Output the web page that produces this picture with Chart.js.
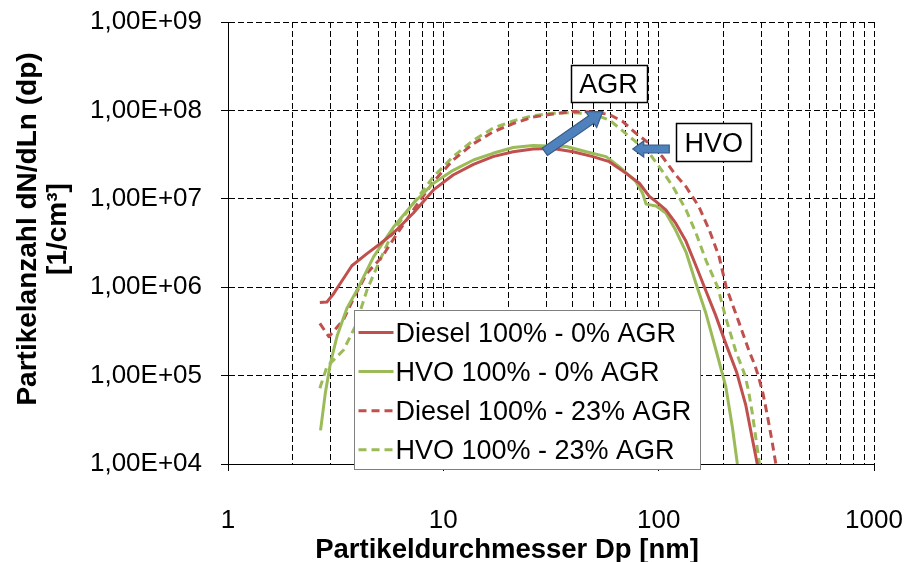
<!DOCTYPE html>
<html><head><meta charset="utf-8">
<script src="https://cdn.jsdelivr.net/npm/chart.js@4.4.1/dist/chart.umd.min.js"></script>
<style>html,body{margin:0;padding:0;background:#fff;overflow:hidden}canvas{display:block}</style>
</head><body>
<canvas id="c" width="906" height="562"></canvas>
<script>
// ---------- data ----------
const SERIES_LABELS = ['Diesel 100% - 0% AGR', 'HVO 100% - 0% AGR', 'Diesel 100% - 23% AGR', 'HVO 100% - 23% AGR'];

const D0_X = [2.67, 2.88, 3.1, 3.32, 3.76, 4.42, 5.09, 5.87, 7.26, 9.0, 11.1, 13.8, 17, 21.1, 26.1, 32.3, 40, 49.5, 59, 70.6, 81.4, 90.6, 97.3, 108, 120, 134, 149, 166, 184, 205, 230, 254, 287];
const D0_Y = [6.7e5, 6.8e5, 8.5e5, 1.1e6, 1.75e6, 2.4e6, 3.1e6, 4.1e6, 6.9e6, 1.26e7, 1.86e7, 2.45e7, 3.0e7, 3.4e7, 3.66e7, 3.7e7, 3.4e7, 3.0e7, 2.63e7, 1.94e7, 1.5e7, 1.06e7, 9.3e6, 7.5e6, 5.3e6, 3.3e6, 1.75e6, 9.0e5, 4.8e5, 2.3e5, 1.1e5, 4.6e4, 1.0e4];

const H0_X = [2.69, 2.83, 2.99, 3.21, 3.57, 4.04, 4.74, 5.87, 7.26, 9.0, 11.1, 13.8, 17, 21.1, 26.1, 37.3, 46.1, 57, 65.8, 78.5, 84.3, 87.4, 97.3, 108, 120, 134, 149, 166, 184, 205, 220, 232];
const H0_Y = [2.4e4, 6.3e4, 1.38e5, 2.8e5, 5.8e5, 1.0e6, 2.2e6, 4.8e6, 8.9e6, 1.5e7, 2.1e7, 2.75e7, 3.27e7, 3.8e7, 4.0e7, 3.9e7, 3.4e7, 3.0e7, 2.3e7, 1.56e7, 1.15e7, 8.7e6, 8.3e6, 6.9e6, 4.4e6, 2.5e6, 1.1e6, 5.0e5, 2.0e5, 7.5e4, 2.6e4, 1.0e4];

const D23_X = [2.67, 2.94, 3.44, 3.9, 4.42, 5.19, 5.87, 7.26, 9.0, 11.1, 13.8, 17, 21.1, 26.1, 32.3, 40, 49.5, 59, 68, 78.5, 90.6, 104, 120, 134, 154, 172, 191, 206, 236, 263, 280, 290, 305, 320, 335, 350];
const D23_Y = [3.9e5, 2.75e5, 4.3e5, 8.2e5, 1.44e6, 2.2e6, 3.5e6, 7.5e6, 1.56e7, 2.75e7, 4.2e7, 5.7e7, 7.1e7, 8.4e7, 9.1e7, 9.7e7, 9.6e7, 9.0e7, 7.5e7, 5.5e7, 4.2e7, 3.0e7, 1.86e7, 1.37e7, 8.1e6, 4.4e6, 2.2e6, 1.0e6, 4.0e5, 1.9e5, 1.3e5, 1.0e5, 6.3e4, 3.5e4, 1.9e4, 1.0e4];

const H23_X = [2.67, 2.88, 3.44, 3.9, 4.42, 5.0, 5.87, 7.26, 9.0, 11.1, 13.8, 17, 21.1, 26.1, 32.3, 40, 49.5, 59, 65.7, 76.7, 90.6, 102, 116, 134, 149, 166, 188, 205, 228, 252, 262, 272, 294];
const H23_Y = [7.2e4, 1.26e5, 1.95e5, 3.6e5, 9.3e5, 1.86e6, 4.4e6, 8.9e6, 1.78e7, 3.0e7, 4.6e7, 6.3e7, 7.6e7, 8.7e7, 9.3e7, 9.4e7, 9.1e7, 7.8e7, 6.3e7, 4.6e7, 3.27e7, 2.2e7, 1.4e7, 7.5e6, 4.1e6, 2.0e6, 1.0e6, 4.5e5, 1.9e5, 1.0e5, 6.5e4, 3.8e4, 1.0e4];

const X_TICK_LABELS = ['1', '10', '100', '1000'];
const Y_TICK_LABELS = ['1,00E+04', '1,00E+05', '1,00E+06', '1,00E+07', '1,00E+08', '1,00E+09'];
const X_TITLE = 'Partikeldurchmesser Dp [nm]';
const Y_TITLE = ['Partikelanzahl dN/dLn (dp)', '[1/cm³]'];
const NOTE_AGR = 'AGR';
const NOTE_HVO = 'HVO';

// ---------- helpers ----------
const FONT = '"Liberation Sans", Arial, Helvetica, sans-serif';
const RED = '#C0504D', GREEN = '#9BBB59';
const zip = (xs, ys) => xs.map((x, i) => ({x, y: ys[i]}));
const isDecade = v => Math.abs(Math.log10(v) - Math.round(Math.log10(v))) < 1e-9;
const logTicks = (lo, hi, minors) => {
  const out = [];
  for (let e = lo; e <= hi; e++) {
    const b = Math.pow(10, e);
    if (e === hi || !minors) { out.push(b); continue; }
    for (let m = 1; m <= 9; m++) out.push(Math.round(m * b * 1e6) / 1e6);
  }
  return out;
};

function blockArrow(ctx, x1, y1, x2, y2, shaftW, headW, headL) {
  const dx = x2 - x1, dy = y2 - y1, len = Math.hypot(dx, dy);
  const ux = dx / len, uy = dy / len, px = -uy, py = ux;
  const nx = x2 - ux * headL, ny = y2 - uy * headL;
  const pts = [
    [x1 + px * shaftW / 2, y1 + py * shaftW / 2],
    [nx + px * shaftW / 2, ny + py * shaftW / 2],
    [nx + px * headW / 2, ny + py * headW / 2],
    [x2, y2],
    [nx - px * headW / 2, ny - py * headW / 2],
    [nx - px * shaftW / 2, ny - py * shaftW / 2],
    [x1 - px * shaftW / 2, y1 - py * shaftW / 2]
  ];
  ctx.beginPath();
  pts.forEach((p, i) => i ? ctx.lineTo(p[0], p[1]) : ctx.moveTo(p[0], p[1]));
  ctx.closePath();
  ctx.fillStyle = '#4F81BD';
  ctx.fill();
  ctx.lineWidth = 1.2;
  ctx.strokeStyle = '#385D8A';
  ctx.stroke();
}

function noteBox(ctx, cx, cy, w, h, text) {
  const l = Math.round(cx - w / 2) + 0.5, t = Math.round(cy - h / 2) + 0.5;
  ctx.fillStyle = '#fff';
  ctx.fillRect(l, t, w, h);
  ctx.lineWidth = 1.5;
  ctx.strokeStyle = '#000';
  ctx.strokeRect(l, t, w, h);
  ctx.fillStyle = '#000';
  ctx.font = '27px ' + FONT;
  ctx.textAlign = 'center';
  ctx.textBaseline = 'alphabetic';
  ctx.fillText(text, cx, cy + 27 * 0.358);
}

const overlay = {
  id: 'overlay',
  afterDatasetsDraw(chart) {
    const {ctx, chartArea: ca, scales: {x, y}} = chart;
    ctx.save();
    blockArrow(ctx, x.getPixelForValue(29.6), y.getPixelForValue(3.4e7),
      x.getPixelForValue(55), y.getPixelForValue(9.7e7), 9, 19, 14);
    blockArrow(ctx, x.getPixelForValue(112), y.getPixelForValue(3.66e7),
      x.getPixelForValue(75.8), y.getPixelForValue(3.66e7), 8, 16, 11);
    noteBox(ctx, x.getPixelForValue(58.5), y.getPixelForValue(2.03e8), 76, 37, NOTE_AGR);
    noteBox(ctx, x.getPixelForValue(180), y.getPixelForValue(4.37e7), 75, 38, NOTE_HVO);

    const L = {left: ca.left + 126.5, top: ca.top + 288.5, w: 346, h: 159};
    ctx.fillStyle = '#fff';
    ctx.fillRect(L.left, L.top, L.w, L.h);
    ctx.lineWidth = 1;
    ctx.strokeStyle = '#808080';
    ctx.strokeRect(L.left, L.top, L.w, L.h);
    chart.data.datasets.forEach((ds, i) => {
      const cy = L.top + 22 + i * 39.1;
      ctx.beginPath();
      ctx.setLineDash(ds.borderDash || []);
      ctx.lineWidth = ds.borderWidth;
      ctx.strokeStyle = ds.borderColor;
      ctx.lineCap = 'butt';
      ctx.moveTo(L.left + 4, cy);
      ctx.lineTo(L.left + 39, cy);
      ctx.stroke();
      ctx.setLineDash([]);
      ctx.fillStyle = '#000';
      ctx.font = '27px ' + FONT;
      ctx.textAlign = 'left';
      ctx.textBaseline = 'alphabetic';
      ctx.fillText(ds.label, L.left + 41, cy + 27 * 0.358);
    });
    ctx.restore();
  },
  afterDraw(chart) {
    const {ctx} = chart;
    ctx.save();
    ctx.fillStyle = '#000';
    ctx.textAlign = 'center';
    ctx.textBaseline = 'alphabetic';
    ctx.font = 'bold 27.5px ' + FONT;
    ctx.fillText(X_TITLE, 507, 558);
    ctx.font = 'bold 28px ' + FONT;
    const ys = [36, 66];
    Y_TITLE.forEach((t, i) => {
      ctx.save();
      ctx.translate(ys[i], 229);
      ctx.rotate(-Math.PI / 2);
      ctx.fillText(t, 0, 0);
      ctx.restore();
    });
    ctx.restore();
  }
};

const mk = (label, xs, ys, color, dash) => ({
  label, data: zip(xs, ys), borderColor: color, backgroundColor: color,
  borderWidth: 3, borderDash: dash, borderCapStyle: 'butt', borderJoinStyle: 'round',
  pointRadius: 0, fill: false, tension: 0
});

new Chart(document.getElementById('c'), {
  type: 'line',
  data: {
    datasets: [
      mk(SERIES_LABELS[0], D0_X, D0_Y, RED, []),
      mk(SERIES_LABELS[1], H0_X, H0_Y, GREEN, []),
      mk(SERIES_LABELS[2], D23_X, D23_Y, RED, [8, 5]),
      mk(SERIES_LABELS[3], H23_X, H23_Y, GREEN, [8, 5])
    ]
  },
  options: {
    responsive: false,
    animation: false,
    devicePixelRatio: 1,
    layout: {padding: {left: 0, top: 22, right: 32, bottom: 0}},
    plugins: {legend: {display: false}, tooltip: {enabled: false}, title: {display: false}},
    scales: {
      x: {
        type: 'logarithmic', min: 1, max: 1000,
        afterBuildTicks: s => { s.ticks = logTicks(0, 3, true).map(v => ({value: v, major: isDecade(v)})); },
        afterFit: s => { s.height = 98; s.paddingLeft = 0; s.paddingRight = 0; },
        ticks: {
          autoSkip: false, maxRotation: 0, minRotation: 0, padding: 34, color: '#000',
          font: {family: FONT, size: 26, lineHeight: 1.2},
          callback: (v) => isDecade(v) ? X_TICK_LABELS[Math.round(Math.log10(v))] : ''
        },
        grid: {
          color: '#000', lineWidth: 1, drawTicks: true, tickLength: 7, tickBorderDash: [],
          tickColor: c => (c.tick && isDecade(c.tick.value)) ? '#000' : 'rgba(0,0,0,0)'
        },
        border: {display: true, color: '#000', width: 1, dash: [6, 3]}
      },
      y: {
        type: 'logarithmic', min: 1e4, max: 1e9,
        afterBuildTicks: s => { s.ticks = logTicks(4, 9, false).map(v => ({value: v, major: true})); },
        afterFit: s => { s.width = 228; s.paddingTop = 0; s.paddingBottom = 0; },
        ticks: {
          autoSkip: false, padding: 19, color: '#000',
          font: {family: FONT, size: 26, lineHeight: 1.2},
          callback: (v) => Y_TICK_LABELS[Math.round(Math.log10(v)) - 4]
        },
        grid: {color: '#000', lineWidth: 1, drawTicks: true, tickLength: 7, tickBorderDash: [], tickColor: '#000'},
        border: {display: true, color: '#000', width: 1, dash: [6, 3]}
      }
    }
  },
  plugins: [overlay]
});
</script>
</body></html>
